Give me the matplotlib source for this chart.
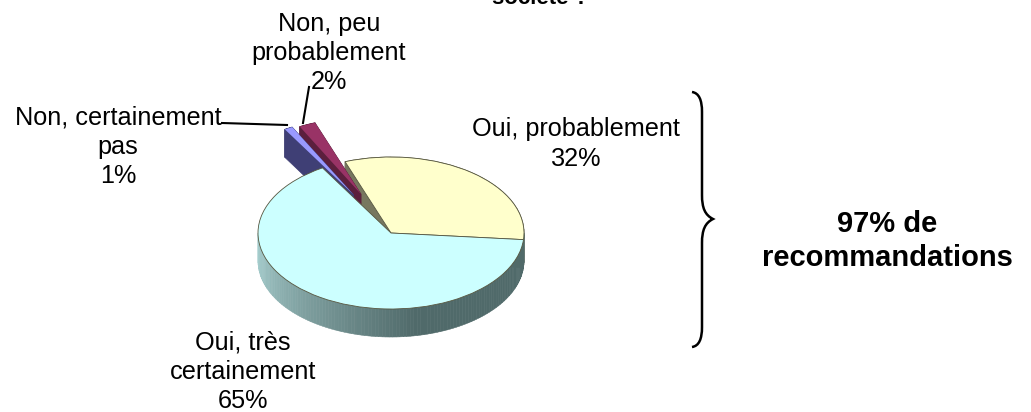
import numpy as np
import matplotlib
matplotlib.use("Agg")
import matplotlib.pyplot as plt
from matplotlib.patches import Wedge, Polygon, PathPatch
from matplotlib.path import Path
from matplotlib.transforms import Affine2D

plt.rcParams['font.family'] = ['Liberation Sans', 'DejaVu Sans']

# slices, counter clockwise from the right edge of the pie
values = [32, 2, 1, 65]
top_colors = ["#FFFFCC", "#993366", "#9999FF", "#CCFFFF"]
side_colors = ["#77775F", "#5C1F3D", "#3F3F75", "#506A6A"]
explode = [0, 0.56, 0.58, 0]

labels = ["Oui, probablement\n32%", "Non, peu\nprobablement\n2%",
          "Non, certainement\npas\n1%", "Oui, très\ncertainement\n65%"]
label_pos = [(576, 144), (329, 53), (118, 147), (243, 372)]

start_angle = -5
depth = 28 / 76  # pie thickness, in units of the squashed radius


def blend(c1, c2, t):
    c1 = np.array(matplotlib.colors.to_rgb(c1))
    c2 = np.array(matplotlib.colors.to_rgb(c2))
    return c1 + (c2 - c1) * t


fig = plt.figure(figsize=(10.31, 4.12), dpi=100)
ax = fig.add_axes([0, 0, 1, 1])
ax.set_xlim(0, 1031)
ax.set_ylim(412, 0)
ax.axis("off")

# unit circle squashed into the ellipse of the pie
pie = Affine2D().scale(133, -76).translate(391, 233) + ax.transData

edges = start_angle + np.cumsum([0] + values) * 3.6


def arc(t1, t2, n=30):
    t = np.radians(np.linspace(t1, t2, n))
    return np.column_stack([np.cos(t), np.sin(t)])


def apex(i):
    mid = np.radians((edges[i] + edges[i + 1]) / 2)
    return np.array([np.cos(mid), np.sin(mid)]) * explode[i]


# yellow wall first, the exploded slices sit in front of it
for i in [0, 1, 2]:
    t1, t2 = edges[i], edges[i + 1]
    c = apex(i)
    outline = np.vstack([[[0, 0]], arc(t1, t2)]) + c
    shifted = outline - [0, depth]
    for k in range(len(outline)):
        j = (k + 1) % len(outline)
        quad = [outline[k], outline[j], shifted[j], shifted[k]]
        ax.add_patch(Polygon(quad, closed=True, transform=pie,
                             fc=side_colors[i], ec=side_colors[i], lw=0.5))
    if i != 0:
        ax.add_patch(Wedge(tuple(c), 1.0, t1, t2, transform=pie,
                           fc=top_colors[i], ec="none"))

# outer wall of the pie with its gradient
steps = np.linspace(180, 360, 120)
for a, b in zip(steps[:-1], steps[1:]):
    t = min((a - 180) / 100, 1)
    col = blend("#ABD3D3", side_colors[3], t)
    p = arc(a, b, 3)
    quad = np.vstack([p, p[::-1] - [0, depth]])
    ax.add_patch(Polygon(quad, closed=True, transform=pie, fc=col, ec=col, lw=0.4))

# top faces of the two big slices
for i in [0, 3]:
    ax.add_patch(Wedge((0, 0), 1.0, edges[i], edges[i + 1], transform=pie,
                       fc=top_colors[i], ec="#55553F", lw=0.6))

for txt, (x, y) in zip(labels, label_pos):
    ax.text(x, y, txt, ha="center", va="center", fontsize=18.2, color="black",
            linespacing=1.28)

# leader lines
ax.plot([222, 287], [123, 125], color="black", lw=1.5)
ax.plot([309, 303], [87, 123], color="black", lw=1.5)

# curly brace
brace = [(692, 92),
         (699, 93), (702, 100), (702, 112),
         (702, 195),
         (702, 208), (705, 215), (713, 219),
         (705, 223), (702, 230), (702, 243),
         (702, 327),
         (702, 339), (699, 346), (692, 347)]
codes = [Path.MOVETO,
         Path.CURVE4, Path.CURVE4, Path.CURVE4,
         Path.LINETO,
         Path.CURVE4, Path.CURVE4, Path.CURVE4,
         Path.CURVE4, Path.CURVE4, Path.CURVE4,
         Path.LINETO,
         Path.CURVE4, Path.CURVE4, Path.CURVE4]
ax.add_patch(PathPatch(Path(brace, codes), fc="none", ec="black", lw=1.8))

ax.text(887.5, 241, "97% de\nrecommandations", ha="center", va="center",
        fontsize=21, fontweight="bold", linespacing=1.27)
ax.text(540, 4, "société ?", ha="center", va="baseline", fontsize=16,
        fontweight="bold")

fig.savefig("out.png", dpi=100)
